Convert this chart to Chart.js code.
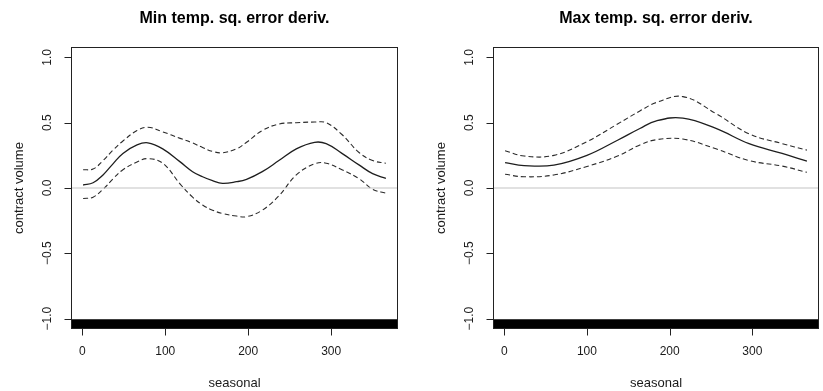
<!DOCTYPE html>
<html>
<head>
<meta charset="utf-8">
<script src="https://cdn.jsdelivr.net/npm/chart.js@4.4.1/dist/chart.umd.min.js"></script>
<style>
  html, body { margin: 0; padding: 0; background: #fff; }
  #wrap { position: relative; width: 823px; height: 391px; overflow: hidden; }
  canvas { position: absolute; top: 0; }
</style>
</head>
<body>
<div id="wrap">
  <canvas id="c1" width="412" height="391" style="left:0px"></canvas>
  <canvas id="c2" width="412" height="391" style="left:411px"></canvas>
</div>
<script>
// ---------- data ----------
const panelTitles = ["Min temp. sq. error deriv.", "Max temp. sq. error deriv."];
const xAxisTitle = "seasonal";
const yAxisTitle = "contract volume";
const xTicks = [0, 100, 200, 300];
const xTickLabels = ["0", "100", "200", "300"];
const yTicks = [-1, -0.5, 0, 0.5, 1];
const yTickLabels = ["\u22121.0", "\u22120.5", "0.0", "0.5", "1.0"];
const xRange = [-13.6, 380.6];
const yRange = [-1.08, 1.08];
const rugTop = -1.005;

// Left panel: minimum temperature
const minDays  = [1, 13, 25, 37, 49, 66, 79, 97, 118, 133, 145, 157, 169, 186, 198, 217, 237, 258, 280, 294, 313, 334, 350, 366];
const minFit   = [0.023, 0.04, 0.10, 0.185, 0.265, 0.33, 0.346, 0.30, 0.20, 0.125, 0.086, 0.056, 0.036, 0.048, 0.066, 0.125, 0.21, 0.30, 0.35, 0.34, 0.265, 0.175, 0.11, 0.074];
const minUpper = [0.14, 0.145, 0.21, 0.29, 0.36, 0.44, 0.465, 0.43, 0.38, 0.345, 0.31, 0.28, 0.27, 0.30, 0.35, 0.44, 0.49, 0.50, 0.505, 0.50, 0.41, 0.27, 0.21, 0.19];
const minLower = [-0.08, -0.07, -0.01, 0.07, 0.14, 0.20, 0.225, 0.19, 0.03, -0.07, -0.13, -0.17, -0.195, -0.215, -0.22, -0.17, -0.06, 0.10, 0.185, 0.19, 0.14, 0.07, -0.01, -0.04];

// Right panel: maximum temperature
const maxDays  = [1, 24, 60, 100, 137, 164, 184, 216, 256, 296, 336, 366];
const maxFit   = [0.195, 0.172, 0.175, 0.25, 0.366, 0.456, 0.515, 0.535, 0.456, 0.34, 0.265, 0.205];
const maxUpper = [0.285, 0.245, 0.25, 0.355, 0.49, 0.59, 0.655, 0.70, 0.57, 0.415, 0.34, 0.29];
const maxLower = [0.105, 0.086, 0.10, 0.165, 0.245, 0.33, 0.37, 0.375, 0.30, 0.21, 0.168, 0.12];

// ---------- helpers ----------
function pts(xs, ys) { return xs.map((x, i) => ({ x: x, y: ys[i] })); }

const decor = {
  id: 'decor',
  afterDraw(chart, args, opts) {
    const ctx = chart.ctx;
    const a = chart.chartArea;
    const xs = chart.scales.x, ys = chart.scales.y;
    ctx.save();
    // box
    ctx.strokeStyle = '#222';
    ctx.lineWidth = 1;
    const L = Math.round(a.left) + 0.5, R = Math.round(a.right) - 0.5;
    const T = Math.round(a.top) + 0.5, B = Math.round(a.bottom) - 0.5;
    ctx.strokeRect(L, T, R - L, B - T);
    // y ticks
    ctx.fillStyle = '#1a1a1a';
    ctx.font = '12px "Liberation Sans", Arial, sans-serif';
    yTicks.forEach((v, i) => {
      const py = Math.round(ys.getPixelForValue(v)) + 0.5;
      ctx.beginPath(); ctx.moveTo(L, py); ctx.lineTo(L - 7, py); ctx.stroke();
      ctx.save();
      ctx.translate(a.left - 23, ys.getPixelForValue(v));
      ctx.rotate(-Math.PI / 2);
      ctx.textAlign = 'center'; ctx.textBaseline = 'middle';
      ctx.fillText(yTickLabels[i], 0, 0);
      ctx.restore();
    });
    // x ticks
    xTicks.forEach((v, i) => {
      const px = Math.round(xs.getPixelForValue(v)) + 0.5;
      ctx.beginPath(); ctx.moveTo(px, B); ctx.lineTo(px, B + 7); ctx.stroke();
      ctx.textAlign = 'center'; ctx.textBaseline = 'middle';
      ctx.fillText(xTickLabels[i], xs.getPixelForValue(v), a.bottom + 23);
    });
    // axis titles
    ctx.font = '13px "Liberation Sans", Arial, sans-serif';
    ctx.textAlign = 'center'; ctx.textBaseline = 'middle';
    ctx.fillText(xAxisTitle, (a.left + a.right) / 2, a.bottom + 54);
    ctx.save();
    ctx.translate(a.left - 52, (a.top + a.bottom) / 2);
    ctx.rotate(-Math.PI / 2);
    ctx.fillText(yAxisTitle, 0, 0);
    ctx.restore();
    // main title
    ctx.fillStyle = '#000';
    ctx.font = 'bold 16px "Liberation Sans", Arial, sans-serif';
    ctx.textBaseline = 'alphabetic';
    ctx.fillText(opts.title, (a.left + a.right) / 2, 23);
    ctx.restore();
  }
};

function makeChart(id, title, days, fit, upper, lower, pad) {
  const solid = { borderColor: '#1e1e1e', borderWidth: 1.3, pointRadius: 0, fill: false, tension: 0.4 };
  const dashed = { borderColor: '#2a2a2a', borderWidth: 1.1, borderDash: [5, 3], pointRadius: 0, fill: false, tension: 0.4 };
  return new Chart(document.getElementById(id), {
    type: 'line',
    data: {
      datasets: [
        { label: 'zero', data: pts(xRange, [0, 0]), borderColor: '#c4c4c4', borderWidth: 1.2, pointRadius: 0, fill: false },
        Object.assign({ label: 'upper', data: pts(days, upper) }, dashed),
        Object.assign({ label: 'fit', data: pts(days, fit) }, solid),
        Object.assign({ label: 'lower', data: pts(days, lower) }, dashed),
        { label: 'rug', data: pts(xRange, [rugTop, rugTop]), borderColor: '#000', borderWidth: 0, backgroundColor: '#000', pointRadius: 0, fill: 'start' }
      ]
    },
    options: {
      responsive: false,
      animation: false,
      events: [],
      layout: { padding: pad },
      scales: {
        x: { type: 'linear', min: xRange[0], max: xRange[1], display: false },
        y: { type: 'linear', min: yRange[0], max: yRange[1], display: false }
      },
      plugins: { legend: { display: false }, tooltip: { enabled: false }, decor: { title: title } }
    },
    plugins: [decor]
  });
}

makeChart('c1', panelTitles[0], minDays, minFit, minUpper, minLower, { left: 71, right: 14, top: 47, bottom: 62 });
makeChart('c2', panelTitles[1], maxDays, maxFit, maxUpper, maxLower, { left: 82, right: 4, top: 47, bottom: 62 });
</script>
</body>
</html>
